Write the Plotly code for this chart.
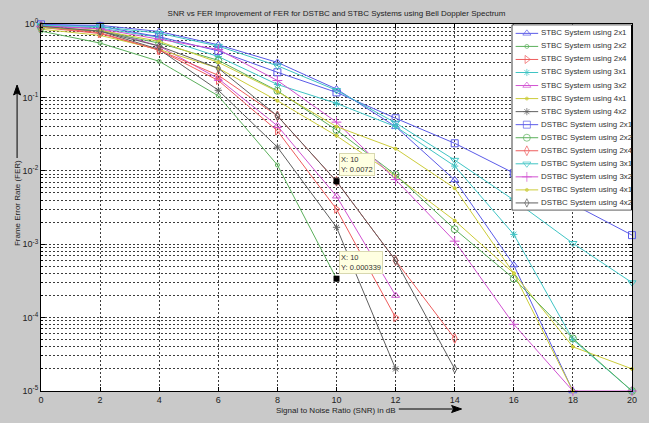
import math
import plotly.graph_objects as go

# ---------------- data ----------------
snr = [0, 2, 4, 6, 8, 10, 12, 14, 16, 18, 20]

series_names = [
    "STBC System using 2x1", "STBC System using 2x2", "STBC System using 2x4",
    "STBC System using 3x1", "STBC System using 3x2", "STBC System using 4x1",
    "STBC System using 4x2", "DSTBC System using 2x1", "DSTBC System using 2x2",
    "DSTBC System using 2x4", "DSTBC System using 3x1", "DSTBC System using 3x2",
    "DSTBC System using 4x1", "DSTBC System using 4x2",
]

stbc_2x1 = [0.98, 0.96, 0.79, 0.52, 0.30, 0.13, 0.040, 0.0075, 0.00052, 1e-5, None]
stbc_2x2 = [0.80, 0.55, 0.31, 0.105, 0.012, 0.000339, None, None, None, None, None]
stbc_2x4 = [0.90, 0.74, 0.44, 0.17, 0.035, 0.0030, 0.0001, None, None, None, None]
stbc_3x1 = [0.95, 0.88, 0.66, 0.36, 0.15, 0.083, 0.040, 0.0116, 0.00136, 5e-5, 1e-5]
stbc_3x2 = [0.95, 0.86, 0.50, 0.18, 0.041, 0.0045, 0.0002, None, None, None, None]
stbc_4x1 = [0.85, 0.70, 0.45, 0.25, 0.09, 0.030, 0.0085, 0.0021, 0.00040, 4e-5, 2e-5]
stbc_4x2 = [0.92, 0.80, 0.45, 0.125, 0.021, 0.0017, 2e-5, None, None, None, None]
dstbc_2x1 = [0.99, 0.93, 0.67, 0.43, 0.22, 0.117, 0.052, 0.0237, 0.0093, 0.0035, 0.00133]
dstbc_2x2 = [0.90, 0.80, 0.55, 0.32, 0.123, 0.036, 0.0088, 0.0016, 0.00034, 5.2e-5, 1e-5]
dstbc_2x4 = [0.92, 0.76, 0.44, 0.20, 0.056, 0.0072, 0.0006, 5.2e-5, None, None, None]
dstbc_3x1 = [0.96, 0.92, 0.75, 0.50, 0.27, 0.125, 0.045, 0.014, 0.0040, 0.00103, 0.0003]
dstbc_3x2 = [0.93, 0.86, 0.62, 0.45, 0.17, 0.046, 0.0076, 0.0011, 8.1e-5, 1e-5, 1e-5]
dstbc_4x1 = [0.90, 0.82, 0.58, 0.30, 0.12, 0.040, 0.020, 0.0058, 0.0004, 1e-5, None]
dstbc_4x2 = [0.93, 0.80, 0.50, 0.25, 0.056, 0.0072, 0.0006, 2e-5, None, None, None]

series_values = [stbc_2x1, stbc_2x2, stbc_2x4, stbc_3x1, stbc_3x2, stbc_4x1, stbc_4x2,
                 dstbc_2x1, dstbc_2x2, dstbc_2x4, dstbc_3x1, dstbc_3x2, dstbc_4x1, dstbc_4x2]

# data-cursor tips
tip_x = [10, 10]
tip_y = [0.0072, 0.000339]

y_tick_vals = [1e-5, 1e-4, 1e-3, 1e-2, 1e-1, 1]
y_tick_text = ["10<sup>-5</sup>", "10<sup>-4</sup>", "10<sup>-3</sup>",
               "10<sup>-2</sup>", "10<sup>-1</sup>", "10<sup>0</sup>"]
x_tick_vals = [0, 2, 4, 6, 8, 10, 12, 14, 16, 18, 20]

title_text = "SNR vs FER Improvement of FER for DSTBC and STBC Systems using Bell Doppler Spectrum"
x_label = "Signal to Noise Ratio (SNR) in dB"
y_label = "Frame Error Rate (FER)"

# ---------------- styles ----------------
BLUE, GREEN, RED, CYAN, MAG, YEL, GRAY = ("#5b5be8", "#5cb05c", "#ee5c5c", "#3fc4c4",
                                          "#d152d1", "#cccc3a", "#606060")
colors = [BLUE, GREEN, RED, CYAN, MAG, YEL, GRAY, BLUE, GREEN, RED, CYAN, MAG, YEL, GRAY]
symbols = ["triangle-up-open", "circle-open", "triangle-right-open", "asterisk-open",
           "triangle-up-open", "circle", "asterisk-open", "square-open", "circle-open",
           "diamond-tall-open", "triangle-down-open", "cross-thin-open", "circle",
           "diamond-tall-open"]
sizes = [7, 4, 7, 6, 7, 3, 6, 7, 7, 7, 7, 7, 3, 6]

FONT = "Liberation Sans, Arial, sans-serif"
W, H = 649, 423
ML, MR, MT, MB = 41, 15, 24, 32
PW, PH = W - ML - MR, H - MT - MB


def px_x(p):
    return (p - ML) / PW


def px_y(p):
    return (H - MB - p) / PH


fig = go.Figure()

for name, vals, c, s, sz in zip(series_names, series_values, colors, symbols, sizes):
    fig.add_trace(go.Scatter(
        x=snr, y=vals, name=name, mode="lines+markers",
        line=dict(color=c, width=1),
        marker=dict(symbol=s, size=sz, color=c, line=dict(color=c, width=1)),
        cliponaxis=False, showlegend=False,
    ))

fig.add_trace(go.Scatter(x=tip_x, y=tip_y, mode="markers", showlegend=False,
                         marker=dict(symbol="square", size=6, color="black"),
                         cliponaxis=False))

for tx, ty in zip(tip_x, tip_y):
    fig.add_annotation(x=tx, y=math.log10(ty), xref="x", yref="y",
                       text=f"X: {tx:g}<br>Y: {ty:g}", showarrow=False,
                       xanchor="left", yanchor="bottom", xshift=2, yshift=5,
                       align="left", bgcolor="#ffffe1", bordercolor="#d8d8b0",
                       borderwidth=1, borderpad=1,
                       font=dict(family=FONT, size=7.5, color="#333333"))

# ---------------- custom legend (inset axes) ----------------
n = len(series_names)
rows = list(range(n))
fig.add_trace(go.Scatter(
    x=[0.004, 0.996, 0.996, 0.004, 0.004],
    y=[-0.66, -0.66, n - 0.44, n - 0.44, -0.66],
    xaxis="x2", yaxis="y2", mode="lines", fill="toself", fillcolor="white",
    line=dict(color="black", width=1), showlegend=False, hoverinfo="skip"))
for i, (c, s, sz) in enumerate(zip(colors, symbols, sizes)):
    fig.add_trace(go.Scatter(
        x=[0.035, 0.128, 0.222], y=[rows[i]] * 3, xaxis="x2", yaxis="y2",
        mode="lines+markers", line=dict(color=c, width=1),
        marker=dict(symbol=s, size=[0, sz, 0], color=c, line=dict(color=c, width=1)),
        showlegend=False, hoverinfo="skip", cliponaxis=False))
fig.add_trace(go.Scatter(
    x=[0.245] * n, y=rows, text=series_names, xaxis="x2", yaxis="y2",
    mode="text", textposition="middle right",
    textfont=dict(family=FONT, size=7.9, color="#333333"),
    showlegend=False, hoverinfo="skip", cliponaxis=False))

# ---------------- layout ----------------
GRIDC = "#3c3c3c"
DASH = "2px,2px"
grid = dict(showgrid=True, gridcolor=GRIDC, griddash=DASH, gridwidth=1)
fig.update_layout(
    width=W, height=H,
    margin=dict(l=ML, r=MR, t=MT, b=MB),
    paper_bgcolor="#c9c9c9", plot_bgcolor="white",
    font=dict(family=FONT, size=9, color="#222222"),
    showlegend=False,
    title=dict(text=title_text, x=px_x(ML + PW / 2), xref="paper", xanchor="center",
               y=1 - 13 / H, yref="container", yanchor="middle",
               font=dict(family=FONT, size=8, color="#222222")),
    xaxis=dict(range=[0, 20], tickvals=x_tick_vals, ticks="inside", ticklen=4,
               tickcolor="black", showline=True, linecolor="black", linewidth=1,
               mirror="allticks", zeroline=False,
               tickfont=dict(family=FONT, size=9, color="#222222"), **grid),
    yaxis=dict(type="log", range=[-5, 0], tickvals=y_tick_vals, ticktext=y_tick_text,
               ticks="inside", ticklen=4, tickcolor="black", showline=True,
               linecolor="black", linewidth=1, mirror="allticks", zeroline=False,
               tickfont=dict(family=FONT, size=9, color="#222222"),
               minor=dict(dtick="D1", showgrid=True, gridcolor=GRIDC,
                          griddash=DASH, gridwidth=1, ticks="inside", ticklen=2,
                          tickcolor="black"),
               **grid),
    xaxis2=dict(domain=[px_x(513), 1.0], range=[0, 1], visible=False,
                anchor="y2", fixedrange=True),
    yaxis2=dict(domain=[px_y(210.5), px_y(24.5)], range=[n - 0.42, -0.68],
                visible=False, anchor="x2", fixedrange=True),
)

fig.add_annotation(x=px_x(337), y=px_y(410), xref="paper", yref="paper",
                   text=x_label, showarrow=False, xanchor="center", yanchor="middle",
                   font=dict(family=FONT, size=8, color="#222222"))
fig.add_annotation(x=px_x(17), y=px_y(203), xref="paper", yref="paper",
                   text=y_label, showarrow=False, textangle=-90,
                   xanchor="center", yanchor="middle",
                   font=dict(family=FONT, size=8, color="#222222"))

# arrows drawn as shapes
fig.add_shape(type="line", xref="paper", yref="paper",
              x0=px_x(400), x1=px_x(456), y0=px_y(409), y1=px_y(409),
              line=dict(color="black", width=1))
fig.add_shape(type="path", xref="paper", yref="paper",
              path=f"M {px_x(463)} {px_y(409)} L {px_x(453)} {px_y(405.5)} "
                   f"L {px_x(455)} {px_y(409)} L {px_x(453)} {px_y(412.5)} Z",
              fillcolor="black", line=dict(color="black", width=1))
fig.add_shape(type="line", xref="paper", yref="paper",
              x0=px_x(17), x1=px_x(17), y0=px_y(158), y1=px_y(93),
              line=dict(color="black", width=1))
fig.add_shape(type="path", xref="paper", yref="paper",
              path=f"M {px_x(17)} {px_y(85)} L {px_x(13.5)} {px_y(95)} "
                   f"L {px_x(17)} {px_y(93)} L {px_x(20.5)} {px_y(95)} Z",
              fillcolor="black", line=dict(color="black", width=1))

fig.write_html("out.html", config={"displayModeBar": False},
               post_script="document.body.style.margin='0px';")
